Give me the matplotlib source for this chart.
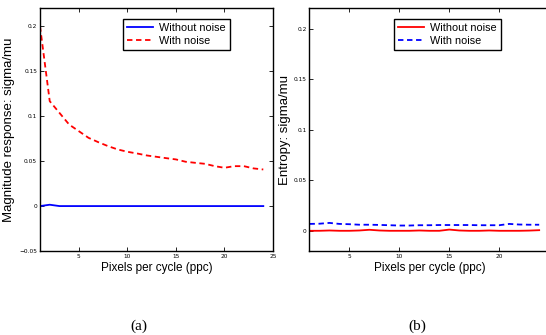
import matplotlib
matplotlib.use("Agg")
import matplotlib.pyplot as plt
import numpy as np

ppc = list(range(1, 25))

# (a) magnitude response
mag_clean = [0.0, 0.0015, 0.0, 0.0, 0.0, 0.0, 0.0, 0.0, 0.0, 0.0, 0.0, 0.0,
             0.0, 0.0, 0.0, 0.0, 0.0, 0.0, 0.0, 0.0, 0.0, 0.0, 0.0, 0.0]
mag_noise = [0.200, 0.1167, 0.1037, 0.0907, 0.0833, 0.0759, 0.0711, 0.0667,
             0.0630, 0.0604, 0.0585, 0.0563, 0.0548, 0.0533, 0.0519, 0.0493,
             0.0481, 0.0470, 0.0444, 0.0426, 0.0444, 0.0444, 0.0419, 0.0407]

# (b) entropy
ent_clean = [0.0, 0.0, 0.0003, 0.0, 0.0, 0.0003, 0.0010, 0.0003, 0.0, 0.0,
             0.0, 0.0003, 0.0, 0.0, 0.0012, 0.0003, 0.0, 0.0, 0.0003, 0.0,
             0.0, 0.0, 0.0002, 0.0006]
ent_noise = [0.0068, 0.0070, 0.0078, 0.0068, 0.0065, 0.0060, 0.0060, 0.0058,
             0.0055, 0.0052, 0.0052, 0.0055, 0.0055, 0.0057, 0.0057, 0.0057,
             0.0057, 0.0055, 0.0055, 0.0055, 0.0068, 0.0062, 0.0060, 0.0060]

font = "Liberation Sans"

fig = plt.figure(figsize=(5.46, 3.35), dpi=100)
ax1 = fig.add_axes([0.0733, 0.2507, 0.4267, 0.7245])
ax2 = fig.add_axes([0.5668, 0.2507, 0.439, 0.7245])


def style(ax, ylim, yticks, xticks):
    ax.set_xlim(1, 25)
    ax.set_ylim(*ylim)
    ax.set_xticks(xticks)
    ax.set_xticklabels([str(t) for t in xticks])
    ax.set_yticks(yticks)
    ax.set_yticklabels([("%g" % t).replace("-", "\u2212") for t in yticks])
    ax.tick_params(direction="in", length=3, width=0.6, labelsize=4.2,
                   top=True, right=True, pad=2)
    for s in ax.spines.values():
        s.set_linewidth(1.0)
    ax.set_xlabel("Pixels per cycle (ppc)", fontsize=8.5, family=font, labelpad=2)


def legend(ax, x0):
    leg = ax.legend(loc="upper left", bbox_to_anchor=(x0, 0.955),
                    prop={"family": font, "size": 7.8}, fancybox=False,
                    edgecolor="black", framealpha=1, handlelength=2.4,
                    borderpad=0.35, labelspacing=0.25, handletextpad=0.6,
                    borderaxespad=0)
    leg.get_frame().set_linewidth(1.0)


ax1.plot(ppc, mag_clean, color="blue", lw=1.3, label="Without noise")
ax1.plot(ppc, mag_noise, color="red", lw=1.3, ls=(0, (3, 2)), label="With noise")
style(ax1, (-0.05, 0.22), [-0.05, 0, 0.05, 0.1, 0.15, 0.2], [5, 10, 15, 20, 25])
ax1.set_ylabel("Magnitude response: sigma/mu", fontsize=9.5, family=font)
ax1.yaxis.set_label_coords(-0.107, 0.5)
legend(ax1, (123 - 40) / 233)

ax2.plot(ppc, ent_clean, color="red", lw=1.3, label="Without noise")
ax2.plot(ppc, ent_noise, color="blue", lw=1.3, ls=(0, (3, 2)), label="With noise")
style(ax2, (-0.02, 0.22), [0, 0.05, 0.1, 0.15, 0.2], [5, 10, 15, 20])
ax2.set_ylabel("Entropy: sigma/mu", fontsize=9.5, family=font)
ax2.yaxis.set_label_coords(-0.077, 0.5)
ax2.tick_params(right=False, labelright=False)
legend(ax2, (394 - 309.5) / 239.8)

fig.text(139 / 546, 1 - 326 / 335, "(a)", ha="center", va="center",
         fontsize=11, family="Liberation Serif")
fig.text(417 / 546, 1 - 326 / 335, "(b)", ha="center", va="center",
         fontsize=11, family="Liberation Serif")

fig.savefig("out.png", dpi=100)
